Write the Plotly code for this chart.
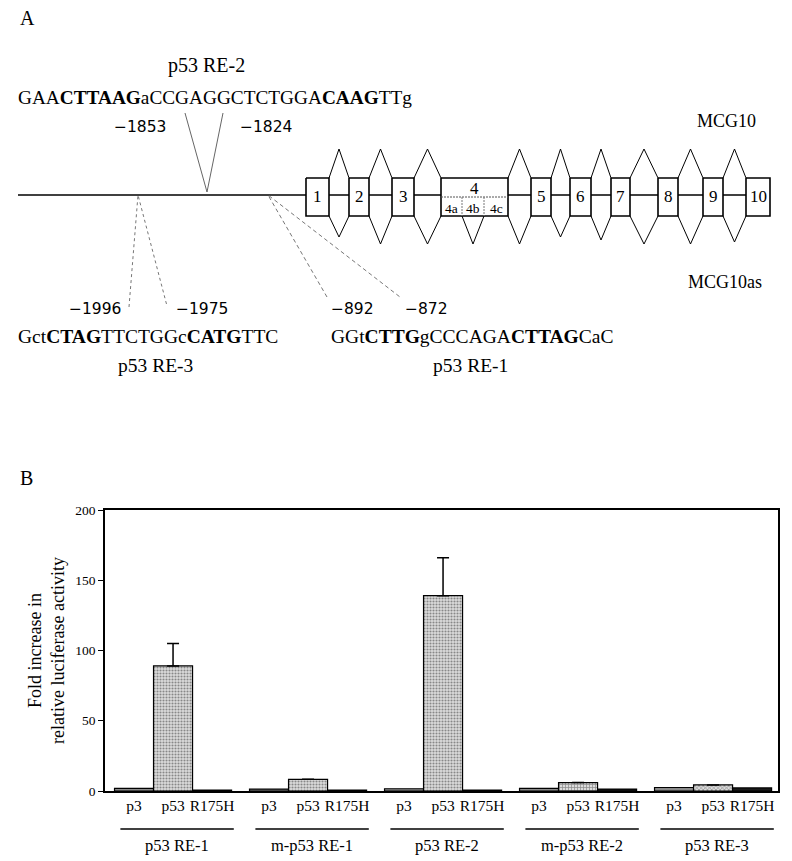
import plotly.graph_objects as go

# ---- panel B data ----
groups = ["p53 RE-1", "m-p53 RE-1", "p53 RE-2", "m-p53 RE-2", "p53 RE-3"]
constructs = ["p3", "p53", "R175H"]
p3_vals = [1.8, 1.4, 1.6, 1.9, 2.5]
p53_vals = [89, 8.3, 139, 6.0, 4.3]
p53_err = [16, None, 27, None, None]
r175h_vals = [0.7, 0.6, 0.7, 1.4, 2.2]
p53_patterns = [".", ".", ".", "+", "x"]

# ---- panel A data (gene map, drawn in page pixels) ----
exon_names = ["1", "2", "3", "4", "5", "6", "7", "8", "9", "10"]
exon_left = [306, 349, 392, 441, 531, 570, 611, 658, 703, 746]
exon_right = [329, 369, 414, 508, 551, 591, 630, 678, 723, 770]
sub_exons = ["4a", "4b", "4c"]
sub_left = [441, 462, 484]
sub_right = [462, 484, 508]
upper_apex = [149, 149, 149, 149, 149, 149, 149, 149, 149]
lower_apex = [237, 244, 244, 244, 237, 240, 244, 244, 242]

re2_seq = "GAA<b>CTTAAG</b>aCCGAGGCTCTGGA<b>CAAG</b>TTg"
re3_seq = "Gct<b>CTAG</b>TTCTGGc<b>CATG</b>TTC"
re1_seq = "GGt<b>CTTG</b>gCCCAGA<b>CTTAG</b>CaC"

SERIF = "Liberation Serif"
SANS = "DejaVu Sans"
W, H = 792, 861
OFF = 8  # page body margin


def px(p):
    return (p - OFF) / W


def py(p):
    return (H + OFF - p) / H


fig = go.Figure()

# bars
bw = 0.289
for k, (name, vals) in enumerate(zip(constructs, [p3_vals, p53_vals, r175h_vals])):
    xs = [g + (k - 1) * bw for g in range(len(groups))]
    marker = dict(line=dict(color="black", width=1.2))
    if name == "p3":
        marker["color"] = "#8a8a8a"
    elif name == "p53":
        marker["color"] = "#dcdcdc"
        marker["pattern"] = dict(shape=p53_patterns, fgcolor="#333333", bgcolor="#dcdcdc",
                                 size=3, solidity=0.4)
    else:
        marker["color"] = "#1a1a1a"
    tr = go.Bar(x=xs, y=vals, width=bw, marker=marker, showlegend=False, name=name)
    if name == "p53":
        tr.error_y = dict(type="data", symmetric=False, array=p53_err,
                          arrayminus=[0] * len(groups), color="black",
                          thickness=1.5, width=6)
    fig.add_trace(tr)

tickvals = [g + (k - 1) * bw for g in range(len(groups)) for k in range(3)]
ticktext = constructs * len(groups)

fig.update_layout(
    xaxis=dict(domain=[px(105), px(778)], range=[-0.504, 4.481], tickvals=tickvals,
               ticktext=ticktext, ticks="", showline=True, linecolor="black",
               linewidth=1.5, mirror=True, showgrid=False, zeroline=False,
               automargin=False,
               tickfont=dict(family=SERIF, size=15.5, color="black")),
    yaxis=dict(domain=[py(791), py(510)], range=[0, 200],
               tickvals=[0, 50, 100, 150, 200], ticks="outside", ticklen=5,
               tickcolor="black", showline=True, linecolor="black", linewidth=1.5,
               mirror=True, showgrid=False, zeroline=False, automargin=False,
               tickfont=dict(family=SERIF, size=13.5, color="black"),
               title=dict(text="Fold increase in<br>relative luciferase activity",
                          font=dict(family=SERIF, size=18, color="black"), standoff=6)),
    xaxis2=dict(domain=[0, 1], range=[OFF, W + OFF], visible=False, anchor="y2"),
    yaxis2=dict(domain=[0, 1], range=[H + OFF, OFF], visible=False, anchor="x2"),
)

# group underlines and names
for g, name in enumerate(groups):
    fig.add_shape(type="line", xref="x", yref="paper", x0=g - 0.39, x1=g + 0.45,
                  y0=py(829), y1=py(829), line=dict(color="black", width=1.5))
    fig.add_annotation(x=g + 0.03, y=py(845), xref="x", yref="paper", text=name,
                       yanchor="middle", showarrow=False,
                       font=dict(family=SERIF, size=16.5, color="black"))

# scan edge line on the right
fig.add_shape(type="line", xref="paper", yref="paper", x0=px(789), x1=px(789),
              y0=0, y1=py(488), line=dict(color="#555555", width=1))

# ---- panel A drawing ----
def ln(xs, ys, color="black", width=1.0, dash="solid", fill=None, fillcolor=None):
    fig.add_trace(go.Scatter(x=xs, y=ys, xaxis="x2", yaxis="y2", mode="lines",
                             line=dict(color=color, width=width, dash=dash),
                             fill=fill, fillcolor=fillcolor, hoverinfo="skip",
                             showlegend=False))

# promoter + intron line
ln([18, exon_right[-1]], [195, 195], width=1.5)

# splice triangles
tx, ty = [], []
for j in range(len(exon_names) - 1):
    a, b = exon_right[j], exon_left[j + 1]
    m = (a + b) / 2
    tx += [a, m, b, None, a, m, b, None]
    ty += [178, upper_apex[j], 178, None, 216, lower_apex[j], 216, None]
tx += [sub_left[1], (sub_left[1] + sub_right[1]) / 2, sub_right[1]]
ty += [216, 244, 216]
ln(tx, ty, width=1)

# exon boxes
bx, by = [], []
for l, r in zip(exon_left, exon_right):
    bx += [l, r, r, l, l, None]
    by += [178, 178, 216, 216, 178, None]
ln(bx, by, width=1.6, fill="toself", fillcolor="white")

# exon 4 subdivisions
ln([sub_left[0], sub_right[-1]], [197, 197], color="#555555", width=1, dash="2px,1px")
for xv in sub_left[1:]:
    ln([xv, xv], [197, 216], color="#777777", width=1, dash="2px,1px")

for name, l, r in zip(exon_names, exon_left, exon_right):
    yy = 188 if name == "4" else 196
    fig.add_annotation(x=(l + r) / 2, y=yy, xref="x2", yref="y2", text=name, showarrow=False,
                       font=dict(family=SERIF, size=17, color="black"))
for name, l, r in zip(sub_exons, sub_left, sub_right):
    fig.add_annotation(x=(l + r) / 2, y=208, xref="x2", yref="y2", text=name, showarrow=False,
                       font=dict(family=SERIF, size=13.5, color="black"))

# response element pointers
ln([185, 207, 223], [113, 192, 113], color="#666666", width=1)
ln([129, 138, 167], [307, 195, 306], color="#777777", width=1, dash="dot")
ln([327, 268, 400], [297, 195, 297], color="#777777", width=1, dash="4px,3px")


def txt(x, y, s, size, family=SERIF, xanchor="center"):
    fig.add_annotation(x=x, y=y, xref="x2", yref="y2", text=s, showarrow=False,
                       xanchor=xanchor, font=dict(family=family, size=size, color="black"))


txt(18, 18, "A", 20, xanchor="left")
txt(18, 478, "B", 20, xanchor="left")
txt(206, 65, "p53 RE-2", 20)
txt(16, 97, re2_seq, 19.3, xanchor="left")
txt(140, 127, "\u22121853", 15.5, SANS)
txt(266, 127, "\u22121824", 15.5, SANS)
txt(726, 121, "MCG10", 18)
txt(725, 282, "MCG10as", 18)
txt(95, 309, "\u22121996", 15.5, SANS)
txt(202, 309, "\u22121975", 15.5, SANS)
txt(352, 309, "\u2212892", 15.5, SANS)
txt(426, 309, "\u2212872", 15.5, SANS)
txt(16, 336, re3_seq, 19.5, xanchor="left")
txt(329, 336, re1_seq, 19.5, xanchor="left")
txt(155, 365, "p53 RE-3", 19.5)
txt(470, 365, "p53 RE-1", 19.5)

fig.update_layout(width=W, height=H, margin=dict(l=0, r=0, t=0, b=0),
                  paper_bgcolor="white", plot_bgcolor="rgba(0,0,0,0)",
                  font=dict(family=SERIF, color="black"), showlegend=False)

fig.write_html("out.html")
